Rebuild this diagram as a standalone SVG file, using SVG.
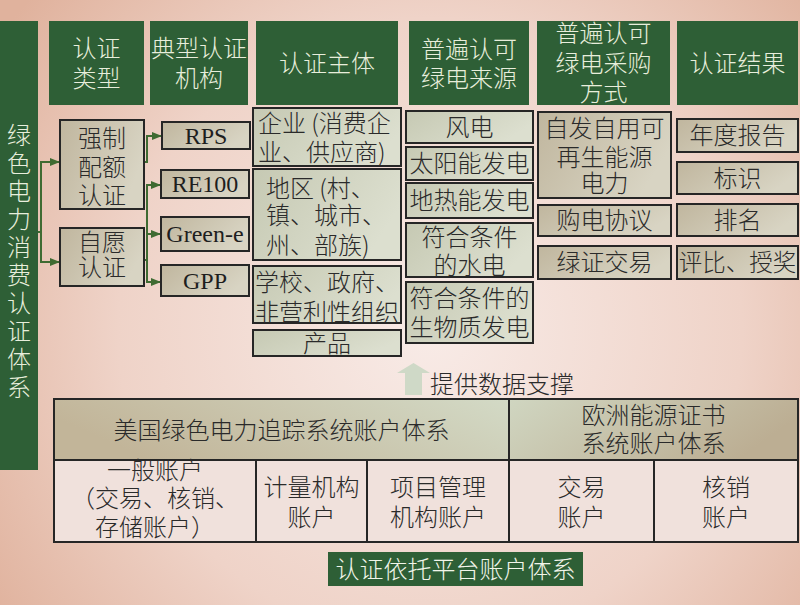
<svg xmlns="http://www.w3.org/2000/svg" width="800" height="605" viewBox="0 0 800 605">
<defs>
<radialGradient id="bg" cx="430" cy="330" r="520" gradientUnits="userSpaceOnUse">
<stop offset="0" stop-color="#f8ebe7"/>
<stop offset="0.6" stop-color="#efd3c8"/>
<stop offset="1" stop-color="#e0b29d"/>
</radialGradient>
<linearGradient id="tan" x1="0" y1="0" x2="1" y2="0.4">
<stop offset="0" stop-color="#c0b69e"/>
<stop offset="1" stop-color="#d8d4c3"/>
</linearGradient>
<linearGradient id="grn" x1="0" y1="0" x2="1" y2="0.4">
<stop offset="0" stop-color="#c6c9b3"/>
<stop offset="1" stop-color="#dcdfcf"/>
</linearGradient>
<linearGradient id="hl" x1="0" y1="0.3" x2="1" y2="0">
<stop offset="0" stop-color="#c2b599"/>
<stop offset="1" stop-color="#d3dac6"/>
</linearGradient>
<linearGradient id="hr" x1="0" y1="0" x2="1" y2="0.3">
<stop offset="0" stop-color="#d0d6c1"/>
<stop offset="1" stop-color="#bcae93"/>
</linearGradient>
<marker id="arr" markerUnits="userSpaceOnUse" markerWidth="10" markerHeight="8" refX="10" refY="4" orient="auto">
<path d="M0,0 L10,4 L0,8 z" fill="#3f6b32"/>
</marker>
</defs>
<style>
.hd{fill:#2e5f36}
.ht{fill:#e8eedc;font-family:"Noto Sans CJK SC",sans-serif;font-weight:300;font-size:24px;text-anchor:middle}
.bx{stroke:#262626;stroke-width:2}
.t{fill:#2a2a2a;font-family:"Noto Sans CJK SC",sans-serif;font-weight:300;font-size:24px;text-anchor:middle}
.l{text-anchor:start}
.s{fill:#1e1e1e;font-family:"Liberation Serif",serif;font-size:24px;text-anchor:middle}
.c{fill:none;stroke:#3f6b32;stroke-width:2}
.tb{fill:none;stroke:#262626;stroke-width:2}
</style>
<rect width="800" height="605" fill="url(#bg)"/>

<g id="root">
<rect class="hd" x="0" y="21" width="38" height="449"/>
<text class="ht" x="19" y="144"><tspan x="19">绿</tspan><tspan x="19" dy="28">色</tspan><tspan x="19" dy="28">电</tspan><tspan x="19" dy="28">力</tspan><tspan x="19" dy="28">消</tspan><tspan x="19" dy="28">费</tspan><tspan x="19" dy="28">认</tspan><tspan x="19" dy="28">证</tspan><tspan x="19" dy="28">体</tspan><tspan x="19" dy="28">系</tspan></text>
</g>

<g id="headers">
<g id="h-type"><rect class="hd" x="49" y="21" width="95" height="84"/><text class="ht" x="96.5" y="57">认证<tspan x="96.5" dy="30">类型</tspan></text></g>
<g id="h-org"><rect class="hd" x="150" y="21" width="98" height="84"/><text class="ht" x="199" y="57">典型认证<tspan x="199" dy="30">机构</tspan></text></g>
<g id="h-subj"><rect class="hd" x="256" y="21" width="142" height="84"/><text class="ht" x="327" y="72">认证主体</text></g>
<g id="h-src"><rect class="hd" x="409" y="21" width="120" height="84"/><text class="ht" x="469" y="58">普遍认可<tspan x="469" dy="29">绿电来源</tspan></text></g>
<g id="h-buy"><rect class="hd" x="537" y="21" width="133" height="84"/><text class="ht" x="603.5" y="42">普遍认可<tspan x="603.5" dy="30">绿电采购</tspan><tspan x="603.5" dy="29">方式</tspan></text></g>
<g id="h-res"><rect class="hd" x="677" y="21" width="121" height="84"/><text class="ht" x="737.5" y="72">认证结果</text></g>
</g>

<g id="connectors">
<path class="c" d="M38,232 H41 M41,161 V263"/>
<path class="c" d="M41,162 H60" marker-end="url(#arr)"/>
<path class="c" d="M41,262 H60" marker-end="url(#arr)"/>
<path class="c" d="M144,162 H147 V136 H162" marker-end="url(#arr)"/>
<path class="c" d="M144,260 H147 M147,184 V283"/>
<path class="c" d="M147,185 H161" marker-end="url(#arr)"/>
<path class="c" d="M147,234 H161" marker-end="url(#arr)"/>
<path class="c" d="M147,282 H161" marker-end="url(#arr)"/>
</g>

<g id="type-mandatory"><rect class="bx" x="60" y="120" width="84" height="89" fill="url(#tan)"/><text class="t" x="102" y="147">强制<tspan x="102" dy="29">配额</tspan><tspan x="102" dy="28">认证</tspan></text></g>
<g id="type-voluntary"><rect class="bx" x="60" y="228" width="84" height="58" fill="url(#tan)"/><text class="t" x="102" y="251">自愿<tspan x="102" dy="25">认证</tspan></text></g>

<g id="org-rps"><rect class="bx" x="162" y="122" width="88" height="27" fill="url(#tan)"/><text class="s" x="206" y="144">RPS</text></g>
<g id="org-re100"><rect class="bx" x="161" y="170" width="88" height="28" fill="url(#tan)"/><text class="s" x="205" y="192">RE100</text></g>
<g id="org-greene"><rect class="bx" x="161" y="217" width="88" height="34" fill="url(#tan)"/><text class="s" x="205" y="242">Green-e</text></g>
<g id="org-gpp"><rect class="bx" x="161" y="265" width="88" height="31" fill="url(#tan)"/><text class="s" x="205" y="289">GPP</text></g>

<g id="subj-ent"><rect class="bx" x="253" y="108" width="148" height="58" fill="url(#grn)"/><text class="t l" x="258" y="132">企业 (消费企<tspan x="258" dy="29">业、供应商)</tspan></text></g>
<g id="subj-region"><rect class="bx" x="253" y="169" width="148" height="91" fill="url(#grn)"/><text class="t l" x="266" y="197">地区 (村、<tspan x="266" dy="27">镇、城市、</tspan><tspan x="266" dy="30">州、部族)</tspan></text></g>
<g id="subj-school"><rect class="bx" x="253" y="266" width="148" height="57" fill="url(#grn)"/><text class="t" x="327" y="291">学校、政府、<tspan x="327" dy="30">非营利性组织</tspan></text></g>
<g id="subj-product"><rect class="bx" x="253" y="330" width="148" height="26" fill="url(#grn)"/><text class="t" x="327" y="352">产品</text></g>

<g id="src-wind"><rect class="bx" x="406" y="111" width="127" height="32" fill="url(#grn)"/><text class="t" x="469.5" y="136">风电</text></g>
<g id="src-solar"><rect class="bx" x="406" y="147" width="127" height="33" fill="url(#grn)"/><text class="t" x="469.5" y="172">太阳能发电</text></g>
<g id="src-geo"><rect class="bx" x="406" y="183" width="127" height="35" fill="url(#grn)"/><text class="t" x="469.5" y="209">地热能发电</text></g>
<g id="src-hydro"><rect class="bx" x="406" y="223" width="127" height="54" fill="url(#grn)"/><text class="t" x="469.5" y="246">符合条件<tspan x="469.5" dy="28">的水电</tspan></text></g>
<g id="src-bio"><rect class="bx" x="406" y="282" width="127" height="61" fill="url(#grn)"/><text class="t" x="469.5" y="307">符合条件的<tspan x="469.5" dy="29">生物质发电</tspan></text></g>

<g id="buy-self"><rect class="bx" x="538" y="112" width="133" height="86" fill="url(#tan)"/><text class="t" x="604.5" y="137">自发自用可<tspan x="604.5" dy="29">再生能源</tspan><tspan x="604.5" dy="26">电力</tspan></text></g>
<g id="buy-ppa"><rect class="bx" x="538" y="205" width="133" height="31" fill="url(#tan)"/><text class="t" x="604.5" y="229">购电协议</text></g>
<g id="buy-rec"><rect class="bx" x="538" y="246" width="133" height="33" fill="url(#tan)"/><text class="t" x="604.5" y="271">绿证交易</text></g>

<g id="res-report"><rect class="bx" x="677" y="119" width="121" height="33" fill="url(#tan)"/><text class="t" x="737.5" y="144">年度报告</text></g>
<g id="res-label"><rect class="bx" x="677" y="162" width="121" height="32" fill="url(#tan)"/><text class="t" x="737.5" y="187">标识</text></g>
<g id="res-rank"><rect class="bx" x="677" y="204" width="121" height="32" fill="url(#tan)"/><text class="t" x="737.5" y="229">排名</text></g>
<g id="res-award"><rect class="bx" x="677" y="246" width="121" height="33" fill="url(#tan)"/><text class="t" x="737.5" y="271" style="font-size:23.5px">评比、授奖</text></g>

<g id="support">
<polygon points="413.5,363 430,373 422,373 422,395 405,395 405,373 397,373" fill="#cfd9c7"/>
<text class="t l" x="430" y="393">提供数据支撑</text>
</g>

<g id="accounts">
<rect x="54" y="399" width="455" height="61" fill="url(#hl)"/>
<rect x="509" y="399" width="289" height="61" fill="url(#hr)"/>
<rect x="54" y="460" width="744" height="82" fill="#f0e1dc"/>
<rect class="tb" x="54" y="399" width="744" height="143"/>
<path class="tb" d="M54,460 H798 M509,399 V542 M256,460 V542 M367,460 V542 M654,460 V542"/>
<text class="t" x="281.5" y="439">美国绿色电力追踪系统账户体系</text>
<text class="t" x="653.5" y="424">欧洲能源证书<tspan x="653.5" dy="28">系统账户体系</tspan></text>
<text class="t" x="155" y="479">一般账户<tspan x="155" dy="28">（交易、核销、</tspan><tspan x="155" dy="29">存储账户）</tspan></text>
<text class="t" x="311.5" y="496">计量机构<tspan x="311.5" dy="30">账户</tspan></text>
<text class="t" x="438" y="496">项目管理<tspan x="438" dy="30">机构账户</tspan></text>
<text class="t" x="581.5" y="496">交易<tspan x="581.5" dy="30">账户</tspan></text>
<text class="t" x="726" y="496">核销<tspan x="726" dy="30">账户</tspan></text>
</g>

<g id="platform">
<rect class="hd" x="328" y="552" width="255" height="34"/>
<text class="ht" x="455.5" y="578" style="fill:#f2f5ea">认证依托平台账户体系</text>
</g>
</svg>
